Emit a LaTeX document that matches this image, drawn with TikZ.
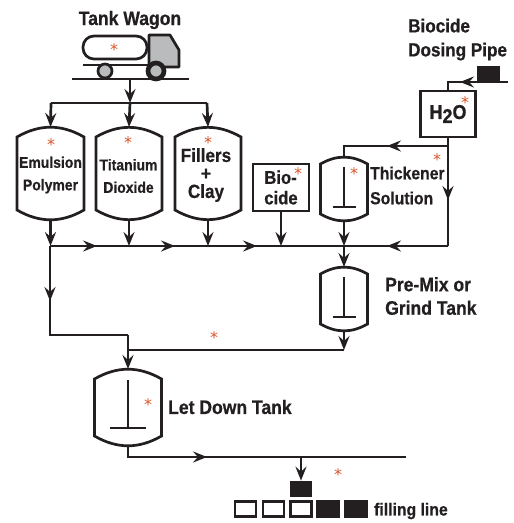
\documentclass[tikz,border=0pt]{standalone}
\usepackage{fontspec}
\setmainfont[FakeStretch=0.9, BoldFeatures={FakeBold=0.6}]{Liberation Sans}
\newfontfamily\starfont{DejaVu Sans}
\usepackage{xcolor}
\usepackage{tikz}
\usetikzlibrary{arrows.meta}
\definecolor{starred}{HTML}{D9552B}
\definecolor{cabgray}{HTML}{B9BBBD}
\definecolor{ink}{HTML}{231F20}
\tikzset{
    pipe/.style={draw=ink, line width=2.7pt, line join=miter},
    pipearrow/.style={pipe, -{Stealth[length=14pt, width=11pt, inset=5pt]}},
    vessel/.style={inner sep=0pt, outer sep=0pt},
    tanktext/.style={inner sep=0pt, align=center, text=ink, font=\bfseries\fontsize{15.5}{22.5}\selectfont},
    label/.style={anchor=west, inner sep=0pt, align=left, text=ink, font=\bfseries\fontsize{19.5}{23.5}\selectfont},
    starmark/.style={inner sep=0pt, yshift=-2pt, text=starred, font=\starfont\fontsize{16}{16}\selectfont},
    boxempty/.style={draw=ink, line width=2.7pt, inner sep=0pt, minimum width=21pt, minimum height=15.5pt},
    boxfull/.style={boxempty, fill=ink},
}
% outline of a vessel around a named node
\newcommand{\vesselbody}[2]{
    \draw[pipe] ([yshift=-#2]#1.north west) to[bend left=30] ([yshift=-#2]#1.north east)
        -- ([yshift=#2]#1.south east) to[bend left=30] ([yshift=#2]#1.south west) -- cycle;
}
% stirrer inside a vessel
\newcommand{\stirrer}[4]{
    \draw[pipe] ([yshift=-#2]#1.north) -- ([yshift=#3]#1.south);
    \draw[pipe] ([yshift=#3,xshift=-#4]#1.south) -- ([yshift=#3,xshift=#4]#1.south);
}

\begin{document}
\begin{tikzpicture}[x=1pt, y=-1pt]
    \useasboundingbox (0,0) rectangle (514,523);
    \fill[white] (0,0) rectangle (514,523);

    % 1. Tank wagon
    \node[tanktext, font=\bfseries\fontsize{19.5}{20}\selectfont] (wagonlabel) at (130,20) {Tank Wagon};
    \filldraw[pipe, fill=cabgray, line join=round] (149,35) -- (170,35) -- (179,50) -- (179,67) -- (149,67) -- cycle;
    \draw[pipe, fill=white, rounded corners=11pt] (83,36) rectangle (147,59);
    \draw[pipe] (83,65) -- (150,65);
    \filldraw[pipe, fill=white] (156,71) circle (9);
    \filldraw[pipe, fill=cabgray] (105,71) circle (7);
    \filldraw[pipe, fill=cabgray] (156,71) circle (7);
    \draw[pipe] (72,79) -- (189,79);
    \coordinate (wagon) at (130,79);
    \coordinate (split) at (130,103);
    \coordinate (splitl) at (51,103);
    \coordinate (splitr) at (207,103);

    % 2. Raw material tanks
    \node[vessel, minimum width=67pt, minimum height=93pt] (emulsion) at (50.5,173.5) {};
    \node[vessel, minimum width=66pt, minimum height=93pt] (titanium) at (129,173.5) {};
    \node[vessel, minimum width=66pt, minimum height=93pt] (fillers) at (208,173.5) {};
    \vesselbody{emulsion}{10pt}
    \vesselbody{titanium}{10pt}
    \vesselbody{fillers}{10pt}
    \node[tanktext] (emulsiontext) at (50.5,175) {Emulsion\\Polymer};
    \node[tanktext] (titaniumtext) at (128.5,176) {Titanium\\Dioxide};
    \node[tanktext, font=\bfseries\fontsize{19}{18}\selectfont] (fillerstext) at (206,175) {Fillers\\+\\Clay};
    \node[draw=ink, line width=2.7pt, minimum width=56pt, minimum height=47pt, inner sep=0pt, align=left, text=ink, font=\bfseries\fontsize{18.5}{20.5}\selectfont] (biocide) at (281,187.5) {Bio-\\cide};

    % 3. Water and thickener
    \node[pipe, inner sep=0pt, minimum width=55pt, minimum height=46pt, text=ink, font=\bfseries\fontsize{20}{20}\selectfont] (water) at (448,114) {H\raisebox{-4pt}{2}O};
    \node[draw=ink, fill=ink, inner sep=0pt, minimum width=22pt, minimum height=15pt] (doser) at (488.5,73.5) {};
    \node[vessel, minimum width=47pt, minimum height=64pt] (thickener) at (344,189) {};
    \vesselbody{thickener}{7pt}
    \stirrer{thickener}{10pt}{14pt}{11.5pt}
    \node[label, font=\bfseries\fontsize{17.5}{25}\selectfont] (thicklabel) at (370,185.5) {Thickener\\Solution};
    \node[label, font=\bfseries\fontsize{19}{24}\selectfont] (biodoselabel) at (408,39.5) {Biocide\\Dosing Pipe};

    % 4. Pre-mix and let down
    \node[vessel, minimum width=47pt, minimum height=64pt] (premix) at (344,299) {};
    \vesselbody{premix}{7pt}
    \stirrer{premix}{10pt}{14pt}{11.5pt}
    \node[label] (premixlabel) at (385,296) {Pre-Mix or\\Grind Tank};
    \node[vessel, minimum width=67pt, minimum height=77pt] (letdown) at (128,407.5) {};
    \vesselbody{letdown}{10pt}
    \stirrer{letdown}{11pt}{18pt}{18pt}
    \node[label] (letlabel) at (168,407) {Let Down Tank};

    % 5. Filling line
    \node[boxfull, minimum width=20pt, minimum height=14pt] (filler) at (301,489) {};
    \node[boxempty] (can1) at (245.5,509) {};
    \node[boxempty] (can2) at (273.5,509) {};
    \node[boxempty] (can3) at (301,509) {};
    \node[boxfull] (can4) at (328,509) {};
    \node[boxfull] (can5) at (356,509) {};
    \node[anchor=west, inner sep=0pt, text=ink, font=\bfseries\fontsize{17.5}{18}\selectfont] (fillinglabel) at (374,511) {filling line};

    % 6. Pipes
    \coordinate (busl) at (50,246);
    \coordinate (bus1) at (97,246);
    \coordinate (bus2) at (175,246);
    \coordinate (bus3) at (257,246);
    \coordinate (bus4) at (387,246);
    \coordinate (busr) at (448,246);
    \coordinate (dosepipe) at (508,82);
    \coordinate (dosetip) at (460,82);
    \coordinate (doseend) at (448,82);
    \coordinate (waterout) at (448,146);
    \coordinate (thicktip) at (387,146);
    \coordinate (thickturn) at (344,146);
    \coordinate (downtip) at (448,200);
    \coordinate (droptip) at (50,301);
    \coordinate (drop) at (50,335);
    \coordinate (dropr) at (128,335);
    \coordinate (premixend) at (128,350);
    \coordinate (letout) at (128,457);
    \coordinate (linetip) at (207,457);
    \coordinate (lineend) at (406,457);

    \draw[pipearrow] (wagon) -- (split);
    \draw[pipe] (splitl) -- (splitr);
    \draw[pipearrow] (splitl) -- (emulsion.north);
    \draw[pipearrow] (split) -- (titanium.north);
    \draw[pipearrow] (splitr) -- (fillers.north);
    \draw[pipearrow] (emulsion.south) -- (emulsion.south |- busl);
    \draw[pipearrow] (titanium.south) -- (titanium.south |- busl);
    \draw[pipearrow] (fillers.south) -- (fillers.south |- busl);
    \draw[pipearrow] (biocide.south) -- (biocide.south |- busl);
    \draw[pipearrow] (thickener.south) -- (thickener.south |- busl);
    \draw[pipearrow] (thickener.south |- busl) -- (premix.north);

    % main line, arrows along it
    \draw[pipe] (busl) -- (busr);
    \draw[pipearrow] (busl) -- (bus1);
    \draw[pipearrow] (bus1) -- (bus2);
    \draw[pipearrow] (bus2) -- (bus3);

    % water side
    \draw[pipe] (dosepipe) -- (doseend) -- (water.north);
    \draw[pipe] (water.south) -- (busr);
    \draw[pipe] (waterout) -- (thickturn) -- (thickener.north);
    \draw[pipearrow] (dosepipe) -- (dosetip);
    \draw[pipearrow] (busr) -- (bus4);
    \draw[pipearrow] (waterout) -- (downtip);
    \draw[pipearrow] (waterout) -- (thicktip);

    % down to let down tank
    \draw[pipe] (busl) -- (drop) -- (dropr);
    \draw[pipearrow] (busl) -- (droptip);
    \draw[pipearrow] (dropr) -- (letdown.north);
    \draw[pipearrow] (premix.south) -- (premix.south |- premixend);
    \draw[pipe] (premix.south |- premixend) -- (premixend);
    \draw[pipe] (letdown.south) -- (letout) -- (lineend);
    \draw[pipearrow] (letout) -- (linetip);
    \draw[pipearrow] (filler.north |- letout) -- (filler.north);

    % 7. Asterisks
    \node[starmark] (star1) at (114,48) {*};
    \node[starmark] (star2) at (51,143) {*};
    \node[starmark] (star3) at (128,141) {*};
    \node[starmark] (star4) at (208,141) {*};
    \node[starmark] (star5) at (298,172) {*};
    \node[starmark] (star6) at (465,101) {*};
    \node[starmark] (star7) at (354,172) {*};
    \node[starmark] (star8) at (437,158) {*};
    \node[starmark] (star9) at (214,336) {*};
    \node[starmark] (star10) at (148,403) {*};
    \node[starmark] (star11) at (338,473) {*};
\end{tikzpicture}
\end{document}
